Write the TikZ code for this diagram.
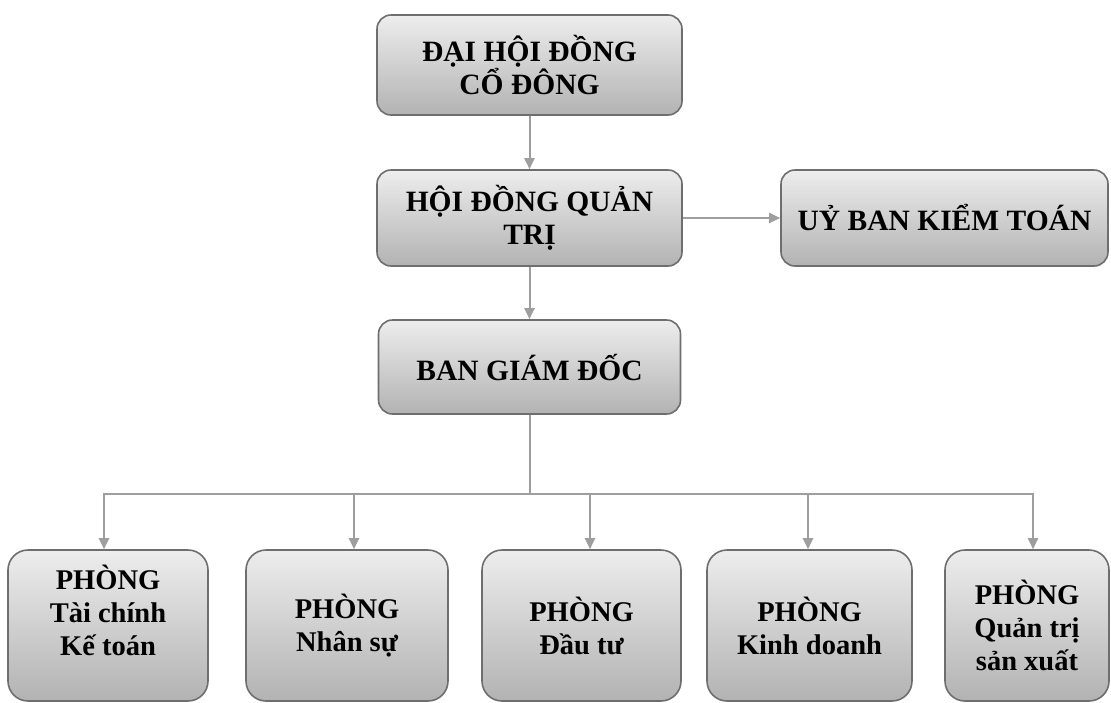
\documentclass[tikz,border=0pt]{standalone}
\usepackage{fontspec}
\setmainfont{Liberation Serif}
\usepackage{tikz}
\usetikzlibrary{arrows.meta}
\definecolor{grisfleche}{RGB}{158,158,158}
\definecolor{grisbord}{RGB}{110,110,110}
\tikzstyle{boite}=[draw=grisbord, line width=1.6pt, rounded corners=14pt, top color=black!7, bottom color=black!30, align=center, inner sep=0, font=\bfseries\fontsize{29.5}{33}\selectfont]
\tikzstyle{phong}=[boite, rounded corners=20pt, minimum height=151pt, font=\bfseries\fontsize{28.5}{33}\selectfont]
\tikzstyle{fleche}=[draw=grisfleche, line width=2pt, -{Triangle[length=11pt,width=10pt]}]
\begin{document}
\begin{tikzpicture}[x=1pt,y=-1pt]
\useasboundingbox (0,0) rectangle (1111,702);

%boites du haut
\node[boite, minimum width=305pt, minimum height=100pt] (dhdcd) at (529.5,65) {ĐẠI HỘI ĐỒNG\\CỔ ĐÔNG};
\node[boite, minimum width=305pt, minimum height=96pt] (hdqt) at (529.5,218) {HỘI ĐỒNG QUẢN\\TRỊ};
\node[boite, minimum width=327pt, minimum height=96pt] (ubkt) at (944.5,218) {UỶ BAN KIỂM TOÁN};
\node[boite, minimum width=302pt, minimum height=94pt] (bgd) at (529.5,367) {BAN GIÁM ĐỐC};

%phongs
\node[phong, minimum width=200pt] (taichinh) at (108,625.5) {PHÒNG\\Tài chính\\Kế toán\\[-3pt]};
\node[phong, minimum width=202pt] (nhansu) at (347,625.5) {PHÒNG\\Nhân sự};
\node[phong, minimum width=199pt] (dautu) at (581.5,625.5) {PHÒNG\\Đầu tư};
\node[phong, minimum width=205pt] (kinhdoanh) at (809.5,625.5) {PHÒNG\\Kinh doanh};
\node[phong, minimum width=164pt] (quantri) at (1027,625.5) {PHÒNG\\Quản trị\\sản xuất};

%fleches
\draw[fleche] (dhdcd) -- (hdqt);
\draw[fleche] (hdqt) -- (ubkt);
\draw[fleche] (hdqt) -- (bgd);

\coordinate (bus) at (529.5,494);
\draw[grisfleche, line width=2pt] (bgd.south) -- (bus);
\foreach \P/\d in {taichinh/-4,nhansu/7,dautu/8.5,kinhdoanh/-1.5,quantri/6}
\draw[fleche] (bus) -| ([xshift=\d pt]\P.north);

\end{tikzpicture}
\end{document}
